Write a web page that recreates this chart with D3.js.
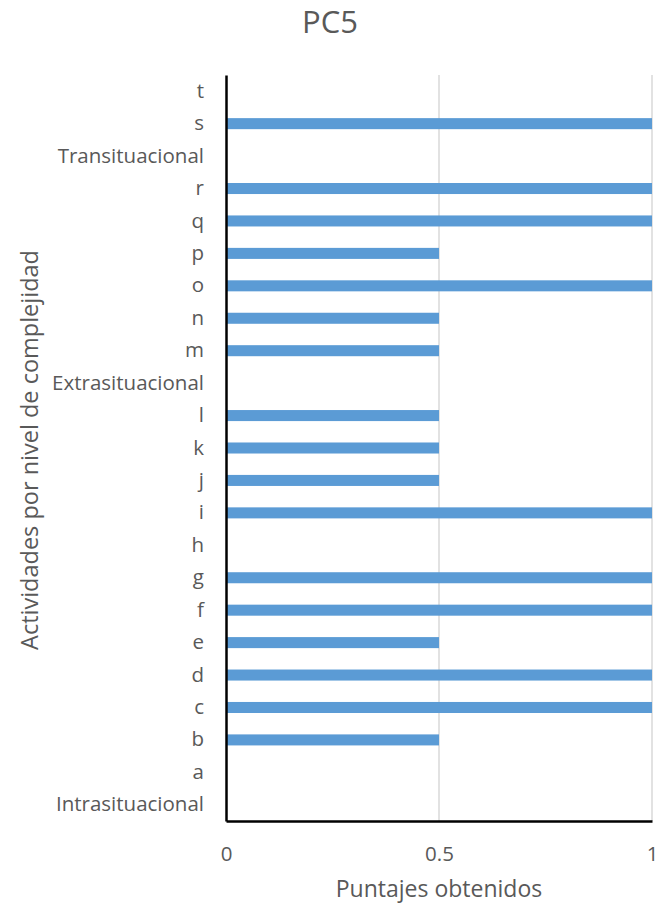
<!DOCTYPE html>
<html>
<head>
<meta charset="utf-8">
<script src="https://cdn.jsdelivr.net/npm/d3@7"></script>
<style>
  html, body { margin: 0; padding: 0; background: #fff; }
  text { font-family: "Open Sans", "Noto Sans", sans-serif; }
</style>
</head>
<body>
<div id="chart"></div>
<script>
// Activities, listed from bottom to top of the chart
const categories = ["Intrasituacional", "a", "b", "c", "d", "e", "f", "g", "h", "i", "j", "k", "l",
  "Extrasituacional", "m", "n", "o", "p", "q", "r", "Transituacional", "s", "t"];
const scores = [0, 0, 0.5, 1, 1, 0.5, 1, 1, 0, 1, 0.5, 0.5, 0.5,
  0, 0.5, 0.5, 1, 0.5, 1, 1, 0, 1, 0];
const xTicks = [0, 0.5, 1];

const W = 660, H = 906;
const m = { top: 75, right: 8, bottom: 85, left: 226 };

const svg = d3.select("#chart").append("svg").attr("width", W).attr("height", H);

const x = d3.scaleLinear().domain([0, 1]).range([m.left, W - m.right]);
const y = d3.scaleBand().domain(categories.slice().reverse())
  .range([m.top, H - m.bottom]).paddingInner(0.66).paddingOuter(0.33);

const grey = "#595959";

// Title
svg.append("text").attr("x", 330).attr("y", 33).attr("text-anchor", "middle")
  .attr("font-size", 31).attr("fill", grey).text("PC5");

// Vertical gridlines
svg.append("g").selectAll("line").data(xTicks.filter(d => d > 0)).join("line")
  .attr("x1", d => x(d)).attr("x2", d => x(d))
  .attr("y1", m.top).attr("y2", H - m.bottom)
  .attr("stroke", "#d9d9d9").attr("stroke-width", 1.5);

// Bars
svg.append("g").selectAll("rect").data(categories.map((c, i) => ({ c, v: scores[i] }))).join("rect")
  .attr("x", x(0)).attr("y", d => y(d.c))
  .attr("width", d => x(d.v) - x(0)).attr("height", y.bandwidth())
  .attr("fill", "#5b9bd5");

// X axis
const xAxis = svg.append("g").attr("transform", `translate(0,${H - m.bottom})`)
  .call(d3.axisBottom(x).tickValues(xTicks).tickSize(0).tickPadding(25).tickFormat(d3.format("")));
xAxis.select(".domain").attr("stroke", "#000").attr("stroke-width", 2.5);
xAxis.selectAll("text").attr("font-size", 20.5).attr("fill", grey);

// Y axis
const yAxis = svg.append("g").attr("transform", `translate(${m.left},0)`)
  .call(d3.axisLeft(y).tickSize(0).tickPadding(22));
yAxis.select(".domain").attr("stroke", "#000").attr("stroke-width", 2.5);
yAxis.selectAll("text").attr("font-size", 20.5).attr("fill", grey);

// Axis titles
svg.append("text").attr("x", 439).attr("y", 897).attr("text-anchor", "middle")
  .attr("font-size", 23).attr("fill", grey).text("Puntajes obtenidos");
svg.append("text").attr("transform", `translate(38,${450}) rotate(-90)`).attr("text-anchor", "middle")
  .attr("font-size", 23.5).attr("fill", grey).text("Actividades por nivel de complejidad");
</script>
</body>
</html>
